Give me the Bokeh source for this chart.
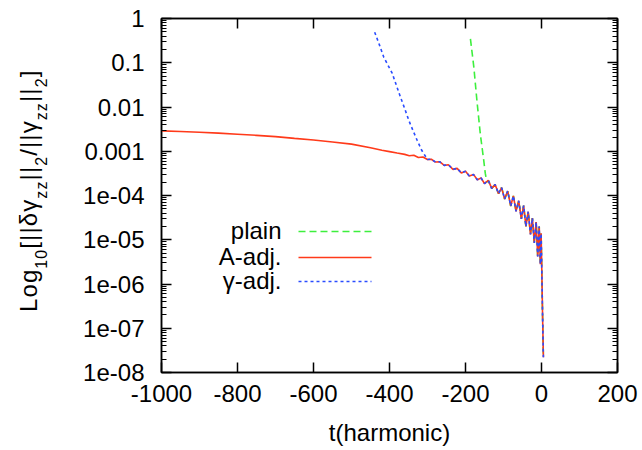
from bokeh.plotting import figure
from bokeh.models import (Range1d, FixedTicker, LinearAxis, LogAxis, Label, Arrow,
                          CustomJSTickFormatter, Div)
from bokeh.layouts import row
from bokeh.embed import file_html
from bokeh.resources import INLINE

# ---------------- data ----------------
aadj_t = [-1000, -950, -900, -850, -800, -750, -700, -650, -600, -550, -500, -450,
          -420, -400, -380, -360, -348, -336, -324, -312, -300, -290, -279, -268,
          -256, -245, -233, -222, -211, -200, -190, -179, -169, -159, -150, -140,
          -131, -122, -113, -105, -97, -89, -81, -74, -67, -60, -53, -47, -41,
          -35, -29, -24, -19, -14, -10, -6, -3, -1, 1, 3, 5]
aadj_v = [2.88e-3, 2.79e-3, 2.69e-3, 2.57e-3, 2.43e-3, 2.29e-3, 2.14e-3, 1.95e-3,
          1.80e-3, 1.62e-3, 1.45e-3, 1.20e-3, 1.05e-3, 9.8e-4, 9.1e-4, 8.5e-4,
          7.9e-4, 8.1e-4, 7.2e-4, 7.4e-4, 6.5e-4, 6.6e-4, 5.7e-4, 5.8e-4, 4.8e-4,
          4.95e-4, 3.9e-4, 4.1e-4, 3.24e-4, 3.55e-4, 2.75e-4, 3.0e-4, 2.26e-4,
          2.48e-4, 1.86e-4, 2.19e-4, 1.45e-4, 1.78e-4, 1.10e-4, 1.51e-4, 8.3e-5,
          1.26e-4, 5.8e-5, 9.8e-5, 4.4e-5, 7.6e-5, 2.95e-5, 5.9e-5, 2.0e-5, 4.3e-5,
          1.32e-5, 3.1e-5, 8.5e-6, 2.5e-5, 4.2e-6, 2.0e-5, 2.8e-6, 1.4e-5, 1.6e-6,
          1.6e-7, 2.2e-8]

gadj_head_t = [-439, -427, -415, -404, -393, -382, -371, -360, -349, -338, -327, -316, -305]
gadj_head_v = [0.49, 0.26, 0.133, 0.088, 0.058, 0.031, 0.0166, 9.2e-3, 4.95e-3,
               2.9e-3, 1.75e-3, 1.08e-3, 7.6e-4]
gadj_join_t = -300

plain_head_t = [-187, -178, -170, -161, -152, -148, -144]
plain_head_v = [0.347, 0.079, 0.0141, 2.45e-3, 6.2e-4, 3.2e-4, 2.0e-4]
plain_join_t = -140

xticks = [-1000, -800, -600, -400, -200, 0, 200]
xtick_labels = ["-1000", "-800", "-600", "-400", "-200", "0", "200"]
yticks = [1e-8, 1e-7, 1e-6, 1e-5, 1e-4, 1e-3, 1e-2, 1e-1, 1.0]
ytick_labels = ["1e-08", "1e-07", "1e-06", "1e-05", "1e-04", "0.001", "0.01", "0.1", "1"]

series_names = ["plain", "A-adj.", "\u03b3-adj."]
series_colors = ["#3def3d", "#ff3a1a", "#2a4cff"]
series_dash = ["7 4", "solid", "3 3"]

x_title = "t(harmonic)"
# y title pieces: (text, is_subscript)
y_title = [("Log", False), ("10", True), ("[||\u03b4\u03b3", False), ("zz", True),
           ("||", False), ("2", True), ("/||\u03b3", False), ("zz", True),
           ("||", False), ("2", True), ("]", False)]

# tails coincide with the A-adj. curve after the curves merge
gadj_t = gadj_head_t + [t for t in aadj_t if t >= gadj_join_t]
gadj_v = gadj_head_v + [v for t, v in zip(aadj_t, aadj_v) if t >= gadj_join_t]
plain_t = plain_head_t + [t for t in aadj_t if t >= plain_join_t]
plain_v = plain_head_v + [v for t, v in zip(aadj_t, aadj_v) if t >= plain_join_t]

# ---------------- layout geometry ----------------
FONT = "Liberation Sans"
W, H = 638, 450
DIV_W = 52
FL, FT, FR, FB = 161, 18, 617, 372   # frame edges in page pixels

p = figure(width=W - DIV_W, height=H, output_backend="svg", toolbar_location=None,
           y_axis_type="log", x_range=Range1d(-1000, 200), y_range=Range1d(1e-8, 1),
           min_border_left=FL - DIV_W, min_border_right=W - FR, min_border_top=FT,
           min_border_bottom=H - FB)
p.xgrid.visible = False
p.ygrid.visible = False
p.outline_line_color = "black"
p.outline_line_width = 1.5
p.background_fill_color = "white"
p.border_fill_color = "white"

yminor = [k * 10.0 ** e for e in range(-8, 0) for k in range(2, 10)]

def style_axis(ax, show_labels):
    ax.axis_line_color = "black"
    ax.axis_line_width = 1.5
    ax.major_tick_in = 10
    ax.major_tick_out = 0
    ax.minor_tick_in = 5
    ax.minor_tick_out = 0
    ax.major_tick_line_width = 1.5
    ax.minor_tick_line_width = 1.2
    ax.major_tick_line_color = "black"
    ax.minor_tick_line_color = "black"
    if show_labels:
        ax.major_label_text_font = FONT
        ax.major_label_text_font_size = "24px"
        ax.major_label_text_color = "black"
    else:
        ax.formatter = CustomJSTickFormatter(code="return ''")
        ax.major_label_text_font_size = "0px"
        ax.major_label_standoff = 0

xb = p.xaxis[0]
xb.ticker = FixedTicker(ticks=xticks, minor_ticks=[])
xb.major_label_overrides = {t: s for t, s in zip(xticks, xtick_labels)}
style_axis(xb, True)
xb.major_label_standoff = 12
xb.axis_label = x_title
xb.axis_label_text_font = FONT
xb.axis_label_text_font_size = "24px"
xb.axis_label_text_font_style = "normal"
xb.axis_label_text_color = "black"
xb.axis_label_standoff = 14

yl = p.yaxis[0]
yl.ticker = FixedTicker(ticks=yticks, minor_ticks=yminor)
yl.major_label_overrides = {t: s for t, s in zip(yticks, ytick_labels)}
style_axis(yl, True)
yl.major_label_standoff = 17

xt = LinearAxis(ticker=FixedTicker(ticks=xticks, minor_ticks=[]))
style_axis(xt, False)
p.add_layout(xt, "above")
yr = LogAxis(ticker=FixedTicker(ticks=yticks, minor_ticks=yminor))
style_axis(yr, False)
p.add_layout(yr, "right")

# ---------------- curves ----------------
p.line(plain_t, plain_v, line_color=series_colors[0], line_width=1.6, line_dash=series_dash[0])
p.line(aadj_t, aadj_v, line_color=series_colors[1], line_width=1.6)
p.line(gadj_t, gadj_v, line_color=series_colors[2], line_width=1.6, line_dash=series_dash[2])

# ---------------- legend (text left of the sample, as in the reference) ----------------
def tx(sx):
    return -1000 + (sx - FL) * 1200.0 / (FR - FL)
def ty(sy):
    return 10 ** (-(sy - FT) * 8.0 / (FB - FT))

leg_rows = [231, 257, 281]
for name, col, dash, ry in zip(series_names, series_colors, series_dash, leg_rows):
    p.add_layout(Label(x=tx(281), y=ty(ry - 1), text=name, text_align="right",
                       text_baseline="middle", text_font=FONT,
                       text_font_size="24px", text_color="black"))
    p.add_layout(Arrow(x_start=tx(298), y_start=ty(ry), x_end=tx(371), y_end=ty(ry),
                       start=None, end=None, line_color=col, line_width=1.6,
                       line_dash=dash))

# ---------------- y axis title as rotated HTML text ----------------
MAIN_BASE, START_Y = 37, 312
parts = []
for txt, is_sub in y_title:
    if is_sub:
        parts.append(f"<span style='font-size:16px;position:relative;top:10px'>{txt}</span>")
    else:
        parts.append(txt)
ytitle_html = (
    f"<div style='position:relative;width:{DIV_W}px;height:{H}px'>"
    f"<div style='position:absolute;left:{MAIN_BASE - 0.8465 * 24:.1f}px;top:{START_Y}px;"
    f"transform:rotate(-90deg);transform-origin:0 0;white-space:nowrap;"
    f"font-family:\"{FONT}\";font-size:24px;line-height:24px;letter-spacing:1.1px;"
    f"color:black'>" + "".join(parts) + "</div></div>")
ydiv = Div(text=ytitle_html, width=DIV_W, height=H, styles={"margin": "0", "padding": "0"})

layout = row(ydiv, p, spacing=0)
open("out.html", "w").write(file_html(layout, INLINE))
